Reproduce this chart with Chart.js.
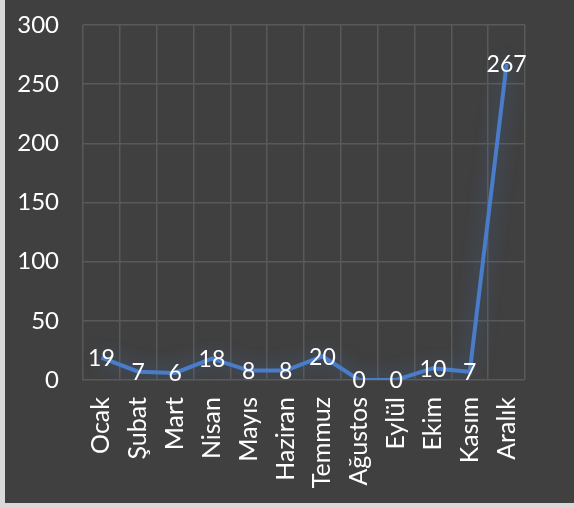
<!DOCTYPE html>
<html>
<head>
<meta charset="utf-8">
<script src="https://cdn.jsdelivr.net/npm/chart.js@4"></script>
<style>
    html, body { margin: 0; padding: 0; background: #d9d9d9; }
    #wrap { position: absolute; left: 5px; top: 0; width: 569px; height: 503px; background: #404040; }
</style>
</head>
<body>
<div id="wrap"><canvas id="lineChart"></canvas></div>
<script>
const months = ['Ocak', 'Şubat', 'Mart', 'Nisan', 'Mayıs', 'Haziran', 'Temmuz', 'Ağustos', 'Eylül', 'Ekim', 'Kasım', 'Aralık'];
const counts = [19, 7, 6, 18, 8, 8, 20, 0, 0, 10, 7, 267];
const yTicks = [0, 50, 100, 150, 200, 250, 300];

const fontFamily = 'Lato, "Open Sans", sans-serif';

// glow under the line + value labels on top of each point
const glowAndLabels = {
    id: 'glowAndLabels',
    beforeDatasetDraw(chart) {
        const ctx = chart.ctx;
        ctx.save();
        ctx.shadowColor = 'rgba(74, 125, 201, 0.6)';
        ctx.shadowBlur = 18;
    },
    afterDatasetDraw(chart) {
        chart.ctx.restore();
    },
    afterDatasetsDraw(chart) {
        const ctx = chart.ctx;
        const meta = chart.getDatasetMeta(0);
        ctx.save();
        ctx.fillStyle = '#ffffff';
        ctx.font = '23px ' + fontFamily;
        ctx.textAlign = 'center';
        ctx.textBaseline = 'middle';
        meta.data.forEach((pt, i) => {
            ctx.fillText(String(counts[i]), pt.x, pt.y + 1);
        });
        ctx.restore();
    }
};

new Chart(document.getElementById('lineChart').getContext('2d'), {
    type: 'line',
    data: {
        labels: months,
        datasets: [{
            data: counts,
            borderColor: '#4a7dc9',
            borderWidth: 4,
            pointRadius: 0,
            tension: 0,
            fill: false
        }]
    },
    options: {
        responsive: true,
        maintainAspectRatio: false,
        animation: false,
        layout: { padding: { top: 25, right: 49, left: 0, bottom: 0 } },
        plugins: { legend: { display: false }, tooltip: { enabled: false } },
        scales: {
            x: {
                offset: true,
                grid: { offset: true, color: '#595959', lineWidth: 1.5, drawTicks: false },
                border: { display: false },
                ticks: {
                    color: '#ffffff',
                    font: { family: fontFamily, size: 25 },
                    minRotation: 90,
                    maxRotation: 90,
                    padding: 17,
                    autoSkip: false
                },
                afterFit(scale) {
                    scale.height = 123;
                    scale.paddingLeft = 0;
                    scale.paddingRight = 0;
                }
            },
            y: {
                min: 0,
                max: 300,
                afterBuildTicks(scale) { scale.ticks = yTicks.map(v => ({ value: v })); },
                grid: { color: '#595959', lineWidth: 1.5, drawTicks: false },
                border: { display: false },
                ticks: {
                    color: '#ffffff',
                    font: { family: fontFamily, size: 24 },
                    padding: 24
                },
                afterFit(scale) {
                    scale.width = 78;
                    scale.paddingTop = 0;
                    scale.paddingBottom = 0;
                }
            }
        }
    },
    plugins: [glowAndLabels]
});
</script>
</body>
</html>
